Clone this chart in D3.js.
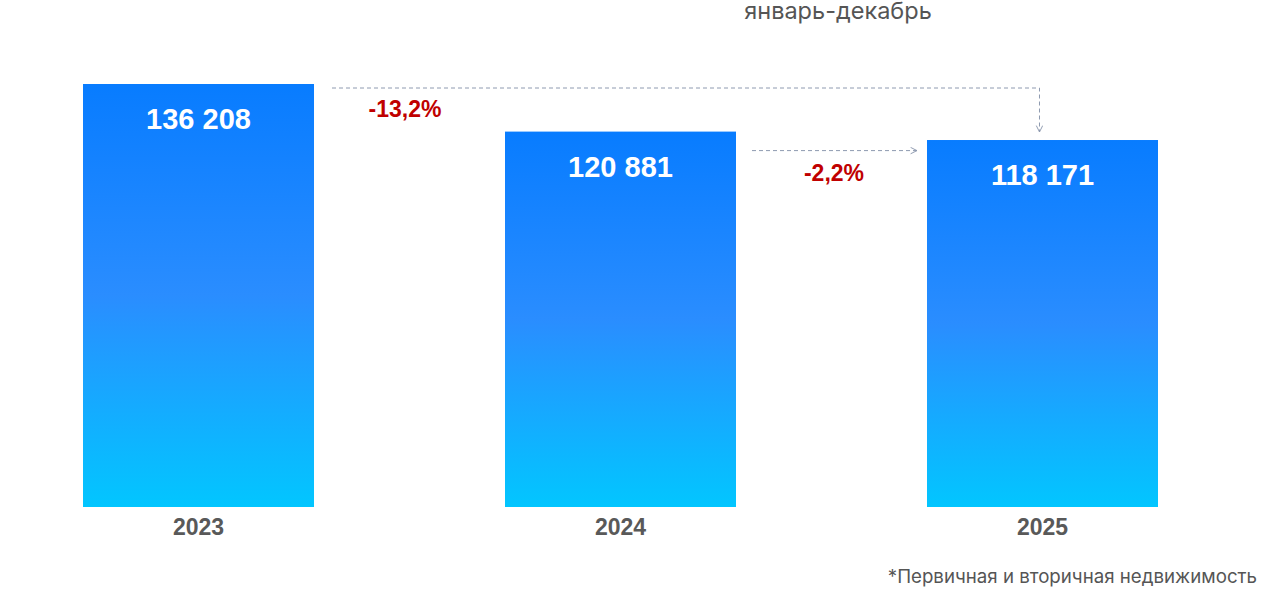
<!DOCTYPE html>
<html>
<head>
<meta charset="utf-8">
<script src="https://cdn.jsdelivr.net/npm/d3@7/dist/d3.min.js"></script>
<style>
  html, body { margin: 0; padding: 0; background: #fff; }
  svg { display: block; }
</style>
</head>
<body>
<svg id="chart" width="1280" height="605"></svg>
<script>
const years = ["2023", "2024", "2025"];
const values = [136208, 120881, 118171];
const valueLabels = ["136 208", "120 881", "118 171"];
const changeLabels = ["-13,2%", "-2,2%"];
const subtitle = "январь-декабрь";
const footnote = "*Первичная и вторичная недвижимость";

const W = 1280, H = 605;
const baseY = 507, topY = 84;
const svg = d3.select("#chart");

const x = d3.scaleBand().domain(years).range([83, 1158]).paddingInner(0.4526).paddingOuter(0);
const y = d3.scaleLinear().domain([0, d3.max(values)]).range([baseY, topY]);

const defs = svg.append("defs");
const grad = defs.append("linearGradient")
  .attr("id", "barGrad").attr("x1", 0).attr("y1", 0).attr("x2", 0).attr("y2", 1);
grad.append("stop").attr("offset", "0%").attr("stop-color", "#087cff");
grad.append("stop").attr("offset", "50%").attr("stop-color", "#2a8dff");
grad.append("stop").attr("offset", "100%").attr("stop-color", "#02c6ff");

defs.append("marker")
  .attr("id", "arrow").attr("viewBox", "0 0 10 10")
  .attr("refX", 9).attr("refY", 5)
  .attr("markerWidth", 8).attr("markerHeight", 8)
  .attr("markerUnits", "userSpaceOnUse")
  .attr("orient", "auto")
  .append("path").attr("d", "M1,1 L9,5 L1,9")
  .attr("fill", "none").attr("stroke", "#8e9ab0").attr("stroke-width", 1.2);

const data = years.map((yr, i) => ({ yr, v: values[i], label: valueLabels[i] }));

// subtitle
svg.append("text")
  .attr("x", 838).attr("y", 19)
  .attr("text-anchor", "middle")
  .attr("font-family", "Inter, 'Noto Sans', sans-serif")
  .attr("font-size", 23.5)
  .attr("fill", "#555")
  .text(subtitle);

// bars
svg.selectAll("rect.bar").data(data).enter().append("rect")
  .attr("class", "bar")
  .attr("x", d => x(d.yr))
  .attr("y", d => y(d.v))
  .attr("width", x.bandwidth())
  .attr("height", d => baseY - y(d.v))
  .attr("fill", "url(#barGrad)");

// value labels
svg.selectAll("text.val").data(data).enter().append("text")
  .attr("class", "val")
  .attr("x", d => x(d.yr) + x.bandwidth() / 2)
  .attr("y", d => y(d.v) + 45)
  .attr("text-anchor", "middle")
  .attr("font-family", "'Liberation Sans', Arial, sans-serif")
  .attr("font-weight", "bold")
  .attr("font-size", 29)
  .attr("fill", "#fff")
  .text(d => d.label);

// year labels
svg.selectAll("text.yr").data(data).enter().append("text")
  .attr("class", "yr")
  .attr("x", d => x(d.yr) + x.bandwidth() / 2)
  .attr("y", baseY + 28)
  .attr("text-anchor", "middle")
  .attr("font-family", "'Liberation Sans', Arial, sans-serif")
  .attr("font-weight", "bold")
  .attr("font-size", 23)
  .attr("fill", "#595959")
  .text(d => d.yr);

// dashed connectors
const bw = x.bandwidth();
const y1 = y(values[0]) + 4;
const xEnd1 = x(years[2]) + bw / 2 - 3;
svg.append("path")
  .attr("d", `M${x(years[0]) + bw + 18},${y1} H${xEnd1} V${y(values[2]) - 8}`)
  .attr("fill", "none")
  .attr("stroke", "#8e9ab0").attr("stroke-width", 1)
  .attr("stroke-dasharray", "4,3")
  .attr("marker-end", "url(#arrow)");

const y2 = y(values[1]) + 19;
svg.append("path")
  .attr("d", `M${x(years[1]) + bw + 16},${y2} H${x(years[2]) - 10}`)
  .attr("fill", "none")
  .attr("stroke", "#8e9ab0").attr("stroke-width", 1)
  .attr("stroke-dasharray", "4,3")
  .attr("marker-end", "url(#arrow)");

// change labels
svg.append("text")
  .attr("x", x(years[0]) + bw + 91).attr("y", y(values[0]) + 33)
  .attr("text-anchor", "middle")
  .attr("font-family", "'Liberation Sans', Arial, sans-serif")
  .attr("font-weight", "bold").attr("font-size", 23)
  .attr("fill", "#c00000")
  .text(changeLabels[0]);

svg.append("text")
  .attr("x", x(years[1]) + bw + 98).attr("y", y(values[1]) + 49)
  .attr("text-anchor", "middle")
  .attr("font-family", "'Liberation Sans', Arial, sans-serif")
  .attr("font-weight", "bold").attr("font-size", 23)
  .attr("fill", "#c00000")
  .text(changeLabels[1]);

// footnote
svg.append("text")
  .attr("x", 1257).attr("y", 583)
  .attr("text-anchor", "end")
  .attr("font-family", "Inter, 'Noto Sans', sans-serif")
  .attr("font-size", 18.7)
  .attr("fill", "#555")
  .text(footnote);
</script>
</body>
</html>
